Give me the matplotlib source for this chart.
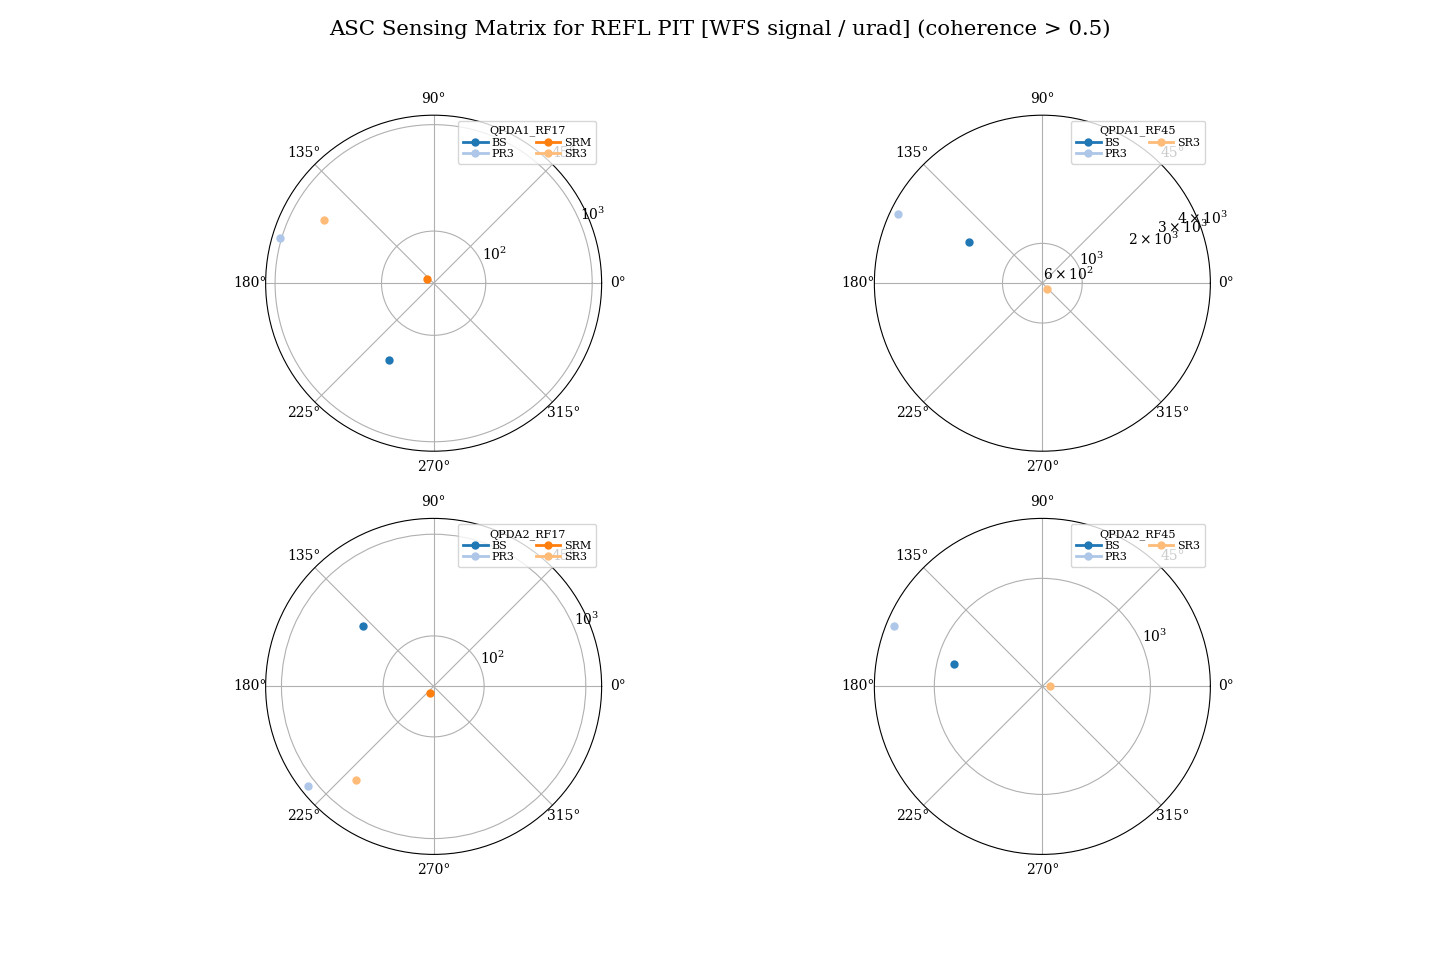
import numpy as np
import matplotlib
matplotlib.use('Agg')
import matplotlib.pyplot as plt

plt.rcParams['font.family'] = 'serif'
plt.rcParams['font.size'] = 10

# sensing matrix elements: phase (deg) and magnitude
sensors = ['QPDA1_RF17', 'QPDA1_RF45', 'QPDA2_RF17', 'QPDA2_RF45']
optics = ['BS', 'PR3', 'SRM', 'SR3']

phase = {
    'QPDA1_RF17': [239.9, 163.6, 147.0, 149.9],
    'QPDA1_RF45': [151.0, 154.5, None, 308.4],
    'QPDA2_RF17': [139.4, 218.3, 240.0, 230.4],
    'QPDA2_RF45': [165.6, 157.7, None, 5.0],
}
magnitude = {
    'QPDA1_RF17': [219, 1040, 38.2, 505],
    'QPDA1_RF45': [1782, 4818, None, 657],
    'QPDA2_RF17': [264, 1204, 37.9, 506],
    'QPDA2_RF45': [757, 2430, None, 182],
}

colors = plt.cm.tab20(np.arange(len(optics)))

fig, axs = plt.subplots(2, 2, figsize=(14.4, 9.6), dpi=100,
                        subplot_kw={'projection': 'polar'})
fig.suptitle('ASC Sensing Matrix for REFL PIT [WFS signal / urad] (coherence > 0.5)',
             fontsize=15.3)

for ax, sensor in zip(axs.flat, sensors):
    ax.set_rscale('log')
    for i, optic in enumerate(optics):
        ph = phase[sensor][i]
        mag = magnitude[sensor][i]
        if ph is None:
            continue
        ax.plot([np.deg2rad(ph)], [mag], 'o-', color=colors[i],
                lw=2, ms=5, label=optic)
    ax.tick_params(axis='x', pad=1)
    ax.legend(title=sensor, loc='upper right', ncol=2, fontsize=8,
              title_fontsize=8, labelspacing=0.1, columnspacing=2.0,
              handlelength=2.2, handletextpad=0.3, borderpad=0.45)

plt.savefig('out.png', dpi=100)
